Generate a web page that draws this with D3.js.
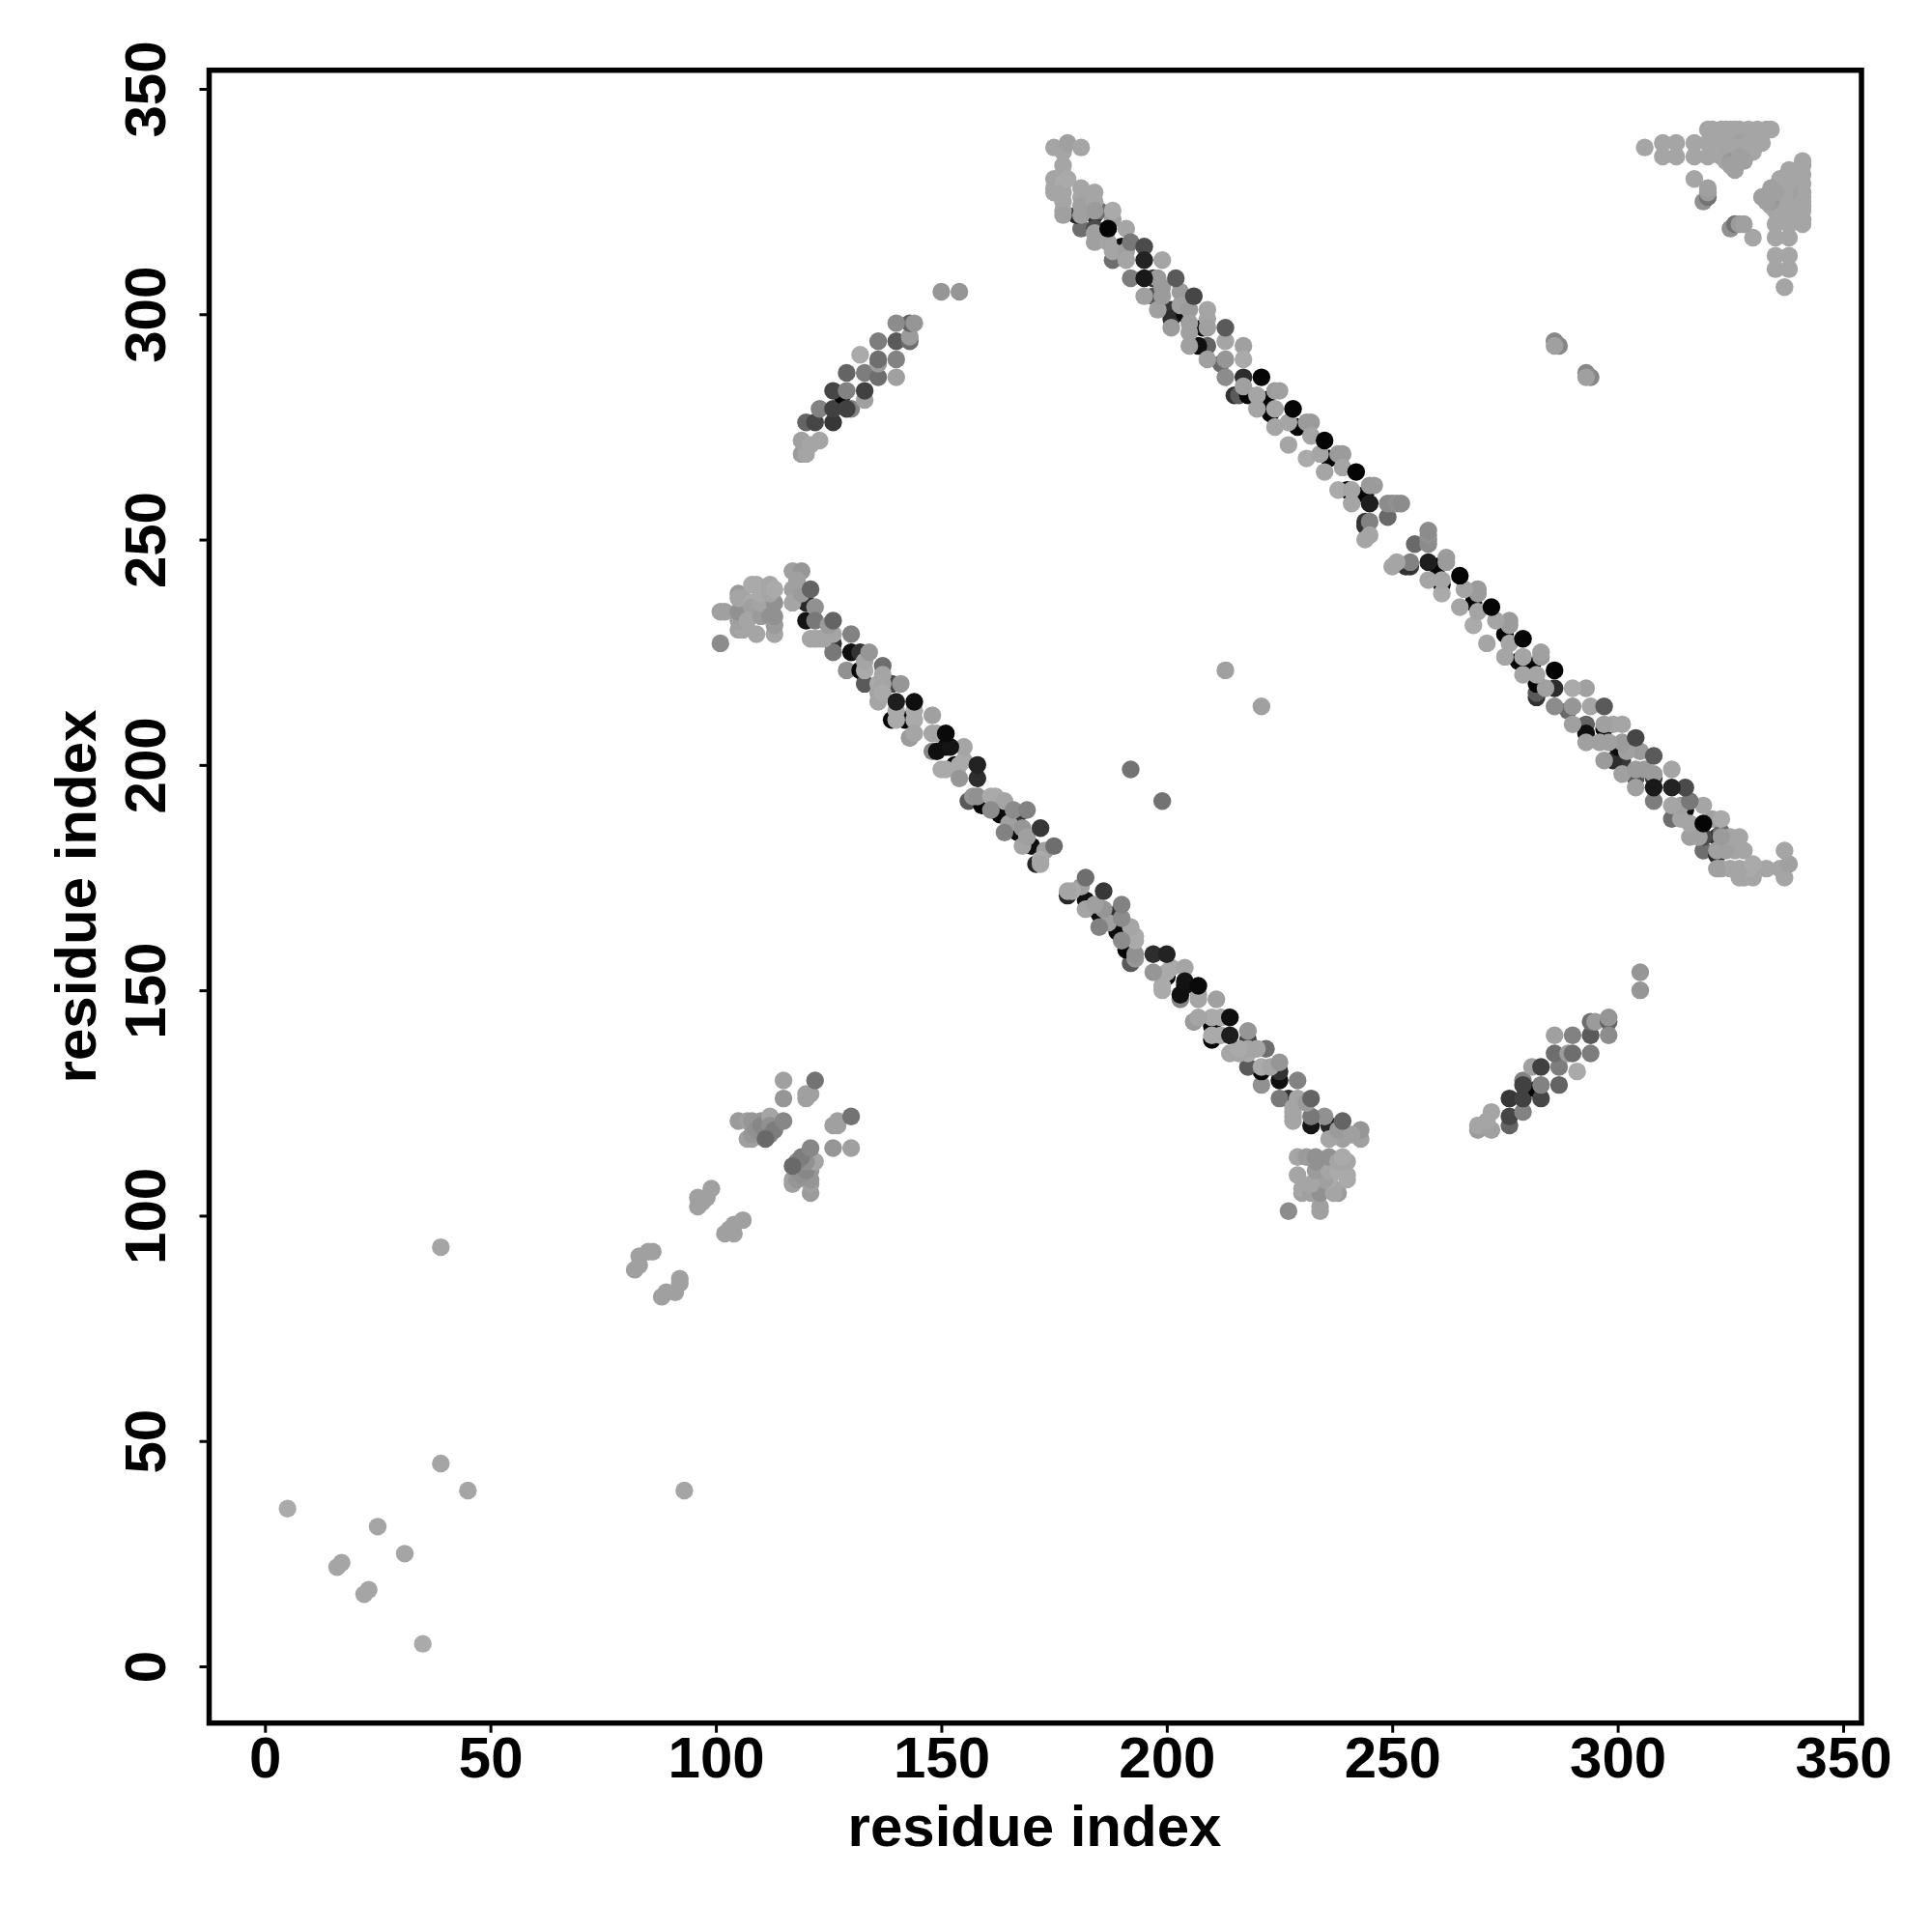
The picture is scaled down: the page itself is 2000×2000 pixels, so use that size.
<!DOCTYPE html>
<html><head><meta charset="utf-8">
<script src="https://cdn.jsdelivr.net/npm/d3@7"></script>
<style>html,body{margin:0;padding:0;background:#fff}svg{display:block}</style>
</head><body><div id="chart"></div>
<script>
// Contacts as [residue i, residue j, score]; the map is symmetric, each is also drawn as [j, i].
const sparseContacts = [[5,35,0.5],[16,22,1],[17,23,1],[25,31,1],[39,45,1],[39,93,1]];
const strandContacts = [
[82,88,1.5],[83,89,1.5],[83,91,1.5],[85,92,1.5],[86,92,1.5],
[96,102,1.5],[96,104,1.5],[97,103,1.5],[98,104,1.5],[99,106,1.5],
[115,126,2.5],[115,130,1.5],[120,126,1.5],[120,127,1.5],[121,127,1.5],[122,130,6],
[105,121,2],[107,121,1.5],[108,121,2.5],[107,117,1.5],[108,117,1.5],[108,118,2.5],[109,119,3],[110,121,2.5],[110,120,4],
[112,122,1],[113,121,1],[112,120,3],[112,118,4],[113,119,5],[111,117,7],[115,121,4]];
const lowerBandUnder = [
[101,227,3.5],[120,232,15.5],[120,236,13.5],[126,227,12.5],[126,225,5.5],[129,221,3],[130,225,16],[132,225,12.5],
[132,221,16.5],[133,218,8.5],[137,222,6.5],[139,218,10.5],[139,210,17],[142,210,17],[143,206,3],
[148,203,4],[149,203,16],[153,200,17],[156,192,8.5],[159,191,17],[163,189,16.5],[167,189,12.5],[167,185,16],[170,182,16],[171,178,13.5]];
const lowerBandLight = [
[101,234,1.5],[102,234,1.5],[105,230,1.5],[106,230,1],[109,229,1],[113,229,1],
[105,232,1.5],[105,234,3],[105,238,2],[105,237,1],[106,237,1],[108,236,0.5],[108,235,1.5],[107,232,1],[110,233,2],[110,236,1],[112,233,3],[113,231,2],[113,233,3],[113,236,3],
[108,240,0.5],[109,240,0.5],[110,238,0.5],[112,240,1],[112,238,1],[113,239,0.5],
[117,243,1.5],[119,243,2.5],[117,239,1.5],[117,236,1],[119,238,2],[118,241,1.5],
[122,235,3],[122,232,5.5],[121,228,1],[122,228,1],[123,228,1],[124,228,1],[126,229,1],[125,231,2],
[133,221,0.5],[133,223,1],[136,218,0.5],[137,218,1],[136,214,1],[136,216,1],[137,216,0.5],[141,218,2.5],[137,220,1],
[140,210,0.5],[140,212,0.5],[144,210,0.5],[144,212,0.5],[143,206,2],[144,207,1],
[148,211,1.5],[148,207,1],[149,207,1],[150,199,0.5],[151,199,0.5],[154,200,0.5],[155,201,0.5],[155,204,1],[154,197,2.5],
[157,193,2.5],[158,193,3],[161,193,0.5],[162,193,0.5],[164,192,1],[161,190,3.5],[165,187,1.5],[166,190,3.5],
[164,185,4.5],[168,186,2.5],[168,182,1],[169,184,1.5],[173,181,1.5],[172,179,0.5],[172,178,1]];
const lowerBandTop = [
[121,239,7.5],[126,232,7.5],[130,229,4.5],[134,225,2.5],[140,214,14.5],[144,214,16],[151,204,16],[152,204,15.5],[151,207,16.5],
[158,197,13],[158,200,14],[169,190,4.5],[172,186,12],[175,182,6.5]];
const upperBandUnder = [
[181,319,6.5],[180,322,13.5],[184,322,12.5],[184,319,10],[185,323,6.5],[185,317,9],[190,315,16],[188,312,6.5],[192,308,5],[197,308,12],[197,304,9],
[201,301,12],[201,299,13],[204,300,16.5],[208,297,17],[209,293,7.5],[207,293,16],[212,289,7],[213,286,3.5],[217,286,13],
[215,282,12.5],[216,282,8.5],[218,282,17],[223,278,17],[222,281,17],[229,275,17],[236,268,17],[240,261,17],[244,260,17],[244,254,12],[244,253,12.5]];
const upperBandLight = [
[175,337,1],[177,336,1],[178,338,1.5],[181,337,1],
[175,330,1],[175,328,1],[175,327,1],[177,333,1],[177,331,1],[177,329,0.5],[177,327,1],[177,325,1],[177,323,1],[177,322,1.5],[178,330,0.5],
[181,328,1],[181,326,1],[181,324,1.5],[181,322,1.5],[184,327,1],[184,325,1],[184,323,2],[184,318,1.5],[184,316,1.5],
[187,316,1],[188,314,1],[188,321,1.5],[188,323,0.5],[191,319,1],[191,314,1.5],[191,312,1],[192,316,5.5],[199,312,1],
[195,304,1.5],[198,308,2],[199,306,2],[198,301,1.5],[199,304,2],[201,297,2],[203,305,2],[203,302,1.5],[205,301,2],[205,298,1.5],[205,296,1.5],[205,293,1.5],
[209,301,1],[209,299,1],[209,297,1.5],[209,290,1.5],[213,294,1],[213,290,2.5],[217,293,1.5],[217,290,0.5],[217,284,1.5],[220,282,1],
[220,279,1],[224,283,2],[225,283,1.5],[224,279,1],[224,275,1],[227,276,1],[227,271,1],[231,276,2],[232,276,2],[232,273,1],[231,268,0.5],
[234,269,1],[235,265,1],[238,269,2],[239,269,2],[239,266,1],[238,261,0.5],[241,261,1],[241,258,1],[245,262,2],[246,262,2],
[245,254,4.5],[244,250,1],[245,251,1],[249,255,7],[249,258,3.5],[250,258,3.5],[251,258,3],[252,258,3.5]];
const upperBandTop = [[187,319,17],[195,315,10],[195,312,14],[195,308,15],[202,308,8.5],[206,304,10.5],[213,297,8.5],[221,286,17],[228,279,17],[235,272,17],[242,265,17],[245,258,14.5]];
const arcContacts = [
[119,269,2],[120,269,1],[119,272,1.5],[123,272,1],[121,271,1],[120,276,7.5],[122,276,10.5],[126,276,12],[123,279,4.5],[126,279,11],
[128,282,17],[130,279,4.5],[129,279,11],[126,283,10.5],[129,283,4.5],[133,281,1.5],[133,283,11],[129,287,7.5],[133,287,5],[136,286,6.5],[140,286,1.5],
[132,291,0.5],[136,289,2],[136,290,6.5],[140,290,4.5],[140,294,8.5],[136,294,5],[143,294,6.5],[143,295,2],[143,298,7.5],[144,298,2.5],[140,298,3.5],
[150,305,2.5],[154,305,2.5]];
const isolatedContacts = [[213,221,1.5],[192,199,6],[286,294,4],[287,293,4],[286,293,1.5]];
const hairpinContacts = [
[306,337,1],[310,335,1],[310,338,1],[313,335,1],[313,338,1],[317,335,1],[317,338,1],[320,335,1],[320,338,1],[323,335,1],
[320,341,1],[321,341,1],[323,341,1],[324,341,1],[325,341,1],[326,341,1],[327,341,1],[329,341,1],[331,341,1],[333,341,1],[334,341,1],
[322,339,1],[328,340,1],[330,340,1],[332,340,1],[324,340,1],[326,340,1],
[323,338,1],[324,338,1],[325,338,1],[326,338,1],[327,338,1.5],[328,338,1.5],[329,338,1],[330,338,1],[331,338,1],[332,338,1],
[323,336,1],[324,336,1],[325,336,1.5],[326,336,1.5],[327,336,2],[328,336,2],[329,336,1],[330,336,1],[327,337,1],[325,337,1],
[324,334,1],[325,334,2],[326,334,2.5],[327,334,2],[328,334,1.5],[325,333,1.5],[326,332,1.5],[327,335,1.5],
[317,330,1],[319,325,3],[320,326,6],[320,327,2],[320,328,1.5]];
const xTickValues = [0,50,100,150,200,250,300,350];
const yTickValues = [0,50,100,150,200,250,300,350];
const axisTitle = "residue index";

const frame = {left:216.5,right:1927,top:72.7,bottom:1783.7};
const x = d3.scaleLinear().domain([0,350]).range([274.3,1908]);
const y = d3.scaleLinear().domain([0,350]).range([1725,92]);
const gray = d3.scaleLinear().domain([0,17]).range([175,5]);

const svg = d3.select("#chart").append("svg").attr("width",2000).attr("height",2000)
  .style("font-family","'Liberation Sans',Arial,sans-serif").style("font-weight","bold");

const groups = [sparseContacts,strandContacts,lowerBandUnder,lowerBandLight,lowerBandTop,upperBandUnder,upperBandLight,upperBandTop,arcContacts,isolatedContacts,hairpinContacts];
const contacts = [];
groups.forEach(g => {
  g.forEach(d => contacts.push({cx:d[0],cy:d[1],s:d[2]}));
  g.forEach(d => contacts.push({cx:d[1],cy:d[0],s:d[2]}));
});
svg.append("g").selectAll("circle").data(contacts).join("circle")
  .attr("cx",d=>x(d.cx)).attr("cy",d=>y(d.cy)).attr("r",9.2)
  .attr("fill",d=>{const v=Math.round(gray(d.s));return d3.rgb(v,v,v).formatHex();});

svg.append("rect").attr("x",frame.left).attr("y",frame.top)
  .attr("width",frame.right-frame.left).attr("height",frame.bottom-frame.top)
  .attr("fill","none").attr("stroke","#000").attr("stroke-width",5.5);

const xAxis = svg.append("g").attr("transform",`translate(0,${frame.bottom})`)
  .call(d3.axisBottom(x).tickValues(xTickValues).tickSize(10).tickPadding(0).tickFormat(d3.format("d")));
xAxis.select(".domain").remove();
xAxis.selectAll("line").attr("stroke","#000").attr("stroke-width",3);
xAxis.selectAll("text").attr("fill","#000").attr("font-size",60).attr("font-weight","bold")
  .attr("y",56).attr("dy",0);

const yAxis = svg.append("g").attr("transform",`translate(${frame.left},0)`)
  .call(d3.axisLeft(y).tickValues(yTickValues).tickSize(10).tickPadding(0).tickFormat(d3.format("d")));
yAxis.select(".domain").remove();
yAxis.selectAll("line").attr("stroke","#000").attr("stroke-width",3);
yAxis.selectAll("text").attr("fill","#000").attr("font-size",60).attr("font-weight","bold")
  .attr("x",0).attr("y",0).attr("dy",0).attr("text-anchor","middle")
  .attr("transform","translate(-45.5,0) rotate(-90)");

svg.append("text").attr("x",1071).attr("y",1911).attr("text-anchor","middle").attr("font-size",60).text(axisTitle);
svg.append("text").attr("transform","translate(98.5,928) rotate(-90)").attr("text-anchor","middle").attr("font-size",60).text(axisTitle);
</script></body></html>
